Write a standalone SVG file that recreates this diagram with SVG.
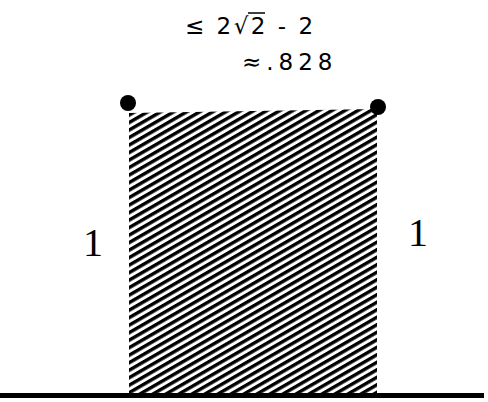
<svg xmlns="http://www.w3.org/2000/svg" width="488" height="402" viewBox="0 0 488 402">
<style>
.t{font-family:"DejaVu Sans","Liberation Sans",sans-serif;font-size:23px;fill:#000}
.n{font-family:"Liberation Serif",serif;font-size:40px;fill:#000}
</style>
<defs>
<pattern id="hatch" patternUnits="userSpaceOnUse" width="6.5" height="6.5" patternTransform="rotate(-30)">
<rect x="0" y="0" width="6.5" height="3.4" fill="#000"/>
</pattern>
</defs>
<rect width="488" height="402" fill="#fff"/>
<g id="labels">
<text class="t" x="185" y="34" letter-spacing="2.5">≤ 2√2 - 2</text>
<line x1="248" y1="13" x2="265" y2="13" stroke="#000" stroke-width="1.5"/>
<text class="t" x="242" y="70" letter-spacing="5">≈.828</text>
</g>
<g id="square">
<path d="M129,113 L377,109 L377,394 L129,394 Z" fill="url(#hatch)"/>
</g>
<g id="dot-left"><circle cx="128" cy="103" r="8" fill="#000"/></g>
<g id="dot-right"><circle cx="378" cy="107" r="8" fill="#000"/></g>
<g id="side-labels">
<text class="n" x="83" y="256">1</text>
<text class="n" x="408" y="246">1</text>
</g>
<g id="ground"><rect x="0" y="393" width="484" height="5" fill="#000"/></g>
</svg>
